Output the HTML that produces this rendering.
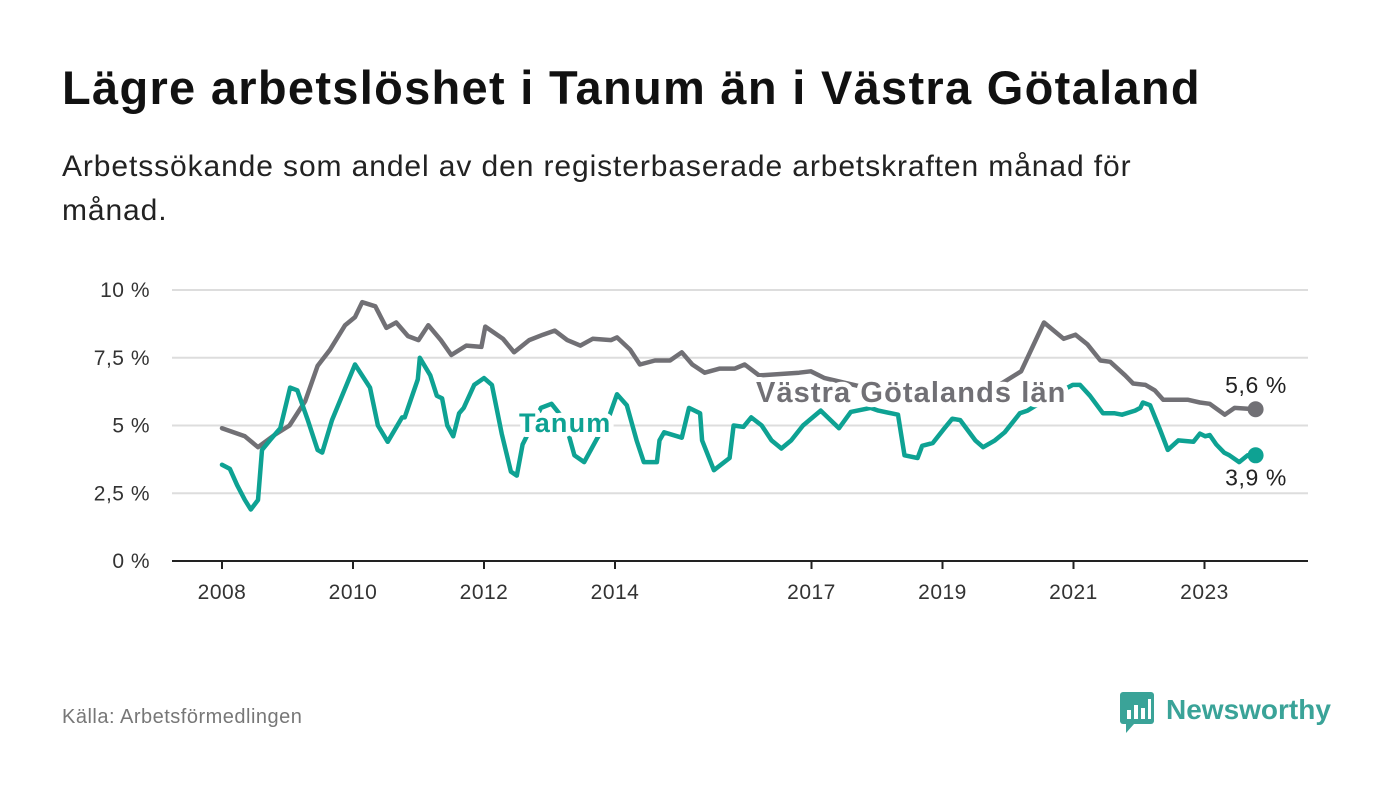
<!DOCTYPE html>
<html><head><meta charset="utf-8">
<style>
body{margin:0;width:1400px;height:794px;background:#fff;font-family:"Liberation Sans",sans-serif;overflow:hidden;position:relative}
h1{position:absolute;left:62px;top:60px;margin:0;font-size:47px;letter-spacing:1.3px;font-weight:bold;color:#111}
.sub{position:absolute;left:62px;top:145px;width:1140px;font-size:30px;letter-spacing:0.9px;line-height:44px;color:#222}
.src{position:absolute;left:62px;top:706px;font-size:20px;letter-spacing:0.5px;color:#777}
</style></head><body>
<h1>Lägre arbetslöshet i Tanum än i Västra Götaland</h1>
<div class="sub">Arbetssökande som andel av den registerbaserade arbetskraften månad för månad.</div>
<div class="src">Källa: Arbetsförmedlingen</div>
<svg style="position:absolute;left:1118px;top:690px" width="230" height="46">
<rect x="2" y="2" width="34" height="32" rx="3" fill="#3aa398"/><path d="M8 34 L8 43 L16 34Z" fill="#3aa398"/>
<rect x="9" y="20" width="4" height="9" fill="#fff"/><rect x="16" y="15" width="4" height="14" fill="#fff"/><rect x="23" y="18" width="4" height="11" fill="#fff"/><rect x="30" y="9" width="3" height="20" fill="#fff"/>
<text x="48" y="29" font-size="28" font-weight="bold" fill="#3aa398" font-family="Liberation Sans, sans-serif">Newsworthy</text>
</svg>
<svg id="chart" width="1400" height="794" style="position:absolute;left:0;top:0"></svg>
<script>
const yTicks=[0,2.5,5,7.5,10];
const yTickLabels=["0 %","2,5 %","5 %","7,5 %","10 %"];
const xTicks=[2008,2010,2012,2014,2017,2019,2021,2023];
const vgDates=[2008,2008.35,2008.55,2008.8,2009.03,2009.27,2009.46,2009.65,2009.88,2010.03,2010.14,2010.34,2010.51,2010.66,2010.84,2011,2011.15,2011.34,2011.5,2011.73,2011.96,2012.02,2012.29,2012.46,2012.69,2012.9,2013.08,2013.27,2013.47,2013.66,2013.94,2014.03,2014.23,2014.38,2014.61,2014.84,2015.02,2015.18,2015.37,2015.6,2015.83,2015.98,2016.2,2016.81,2016.99,2017.2,2018,2019,2019.8,2020.2,2020.55,2020.85,2021.03,2021.21,2021.41,2021.56,2021.79,2021.91,2022.1,2022.24,2022.37,2022.75,2022.93,2023.08,2023.31,2023.46,2023.78];
const vgValues=[4.9,4.6,4.2,4.65,5.0,5.9,7.2,7.8,8.7,9.0,9.55,9.4,8.6,8.8,8.3,8.15,8.7,8.15,7.6,7.95,7.9,8.65,8.2,7.7,8.15,8.35,8.5,8.15,7.95,8.2,8.15,8.25,7.8,7.25,7.4,7.4,7.7,7.25,6.95,7.1,7.1,7.25,6.85,6.95,7.0,6.75,6.3,6.0,6.4,7.0,8.8,8.2,8.35,8.0,7.4,7.35,6.85,6.55,6.5,6.3,5.95,5.95,5.85,5.8,5.4,5.65,5.6];
const tnDates=[2008,2008.12,2008.23,2008.35,2008.44,2008.55,2008.61,2008.73,2008.89,2009.04,2009.15,2009.31,2009.46,2009.53,2009.68,2010.03,2010.26,2010.38,2010.53,2010.75,2010.79,2010.99,2011.02,2011.18,2011.28,2011.36,2011.44,2011.53,2011.62,2011.69,2011.85,2012,2012.12,2012.27,2012.41,2012.5,2012.59,2012.87,2013.03,2013.23,2013.38,2013.53,2013.71,2013.89,2014.03,2014.18,2014.33,2014.44,2014.64,2014.68,2014.75,2015.02,2015.13,2015.3,2015.33,2015.51,2015.75,2015.81,2015.96,2016.08,2016.24,2016.39,2016.54,2016.69,2016.87,2017.14,2017.42,2017.6,2017.9,2018.02,2018.32,2018.42,2018.62,2018.69,2018.85,2019.03,2019.15,2019.27,2019.5,2019.62,2019.8,2019.95,2020.18,2020.3,2020.6,2020.99,2021.1,2021.25,2021.45,2021.63,2021.74,2021.94,2022.02,2022.06,2022.17,2022.32,2022.44,2022.6,2022.83,2022.93,2023.01,2023.08,2023.18,2023.3,2023.38,2023.53,2023.66,2023.78];
const tnValues=[3.55,3.4,2.8,2.25,1.9,2.25,4.1,4.45,4.9,6.4,6.3,5.2,4.1,4.0,5.2,7.25,6.4,5.0,4.4,5.3,5.3,6.7,7.5,6.85,6.1,6.0,5.0,4.6,5.45,5.65,6.5,6.75,6.5,4.7,3.3,3.15,4.3,5.65,5.8,5.2,3.9,3.65,4.45,5.2,6.15,5.75,4.45,3.65,3.65,4.45,4.75,4.55,5.65,5.45,4.45,3.35,3.8,5.0,4.95,5.3,5.0,4.45,4.15,4.45,5.0,5.55,4.9,5.5,5.65,5.55,5.4,3.9,3.8,4.25,4.35,4.9,5.25,5.2,4.45,4.2,4.45,4.75,5.45,5.55,6.0,6.5,6.5,6.1,5.45,5.45,5.4,5.55,5.65,5.85,5.75,4.85,4.1,4.45,4.4,4.7,4.6,4.65,4.3,4.0,3.9,3.65,3.9,3.9];
const NS='http://www.w3.org/2000/svg';
const svg=document.getElementById('chart');
const X=y=>222+(y-2008)*65.5;
const Y=v=>561-v*27.1;
function mk(t,a){const e=document.createElementNS(NS,t);for(const k in a)e.setAttribute(k,a[k]);svg.appendChild(e);return e;}
yTicks.forEach((v,i)=>{
  const l=mk('line',{x1:172,x2:1308,y1:Y(v),y2:Y(v),stroke:v===0?'#222':'#ddd','stroke-width':2});
  
  
  const t=mk('text',{x:150,y:Y(v)+7,'text-anchor':'end','font-size':21,'letter-spacing':0.5,fill:'#333'});
  t.textContent=yTickLabels[i];
  
  
});
xTicks.forEach(y=>{
  const l=mk('line',{x1:X(y),x2:X(y),y1:561,y2:569,stroke:'#222','stroke-width':2});
  
  
  const t=mk('text',{x:X(y),y:599,'text-anchor':'middle','font-size':21,'letter-spacing':0.5,fill:'#333'});
  t.textContent=y;
  
  
});
function line(d,v,c,name){
  const p=mk('path',{d:d.map((x,i)=>(i?'L':'M')+X(x).toFixed(1)+' '+Y(v[i]).toFixed(1)).join(''),fill:'none',stroke:c,'stroke-width':4.5,'stroke-linejoin':'round','stroke-linecap':'round'});
  
  
  const n=d.length-1;
  const c2=mk('circle',{cx:X(d[n]),cy:Y(v[n]),r:8,fill:c});
  
  
}
line(vgDates,vgValues,'#717075','vastra-gotaland-line');
line(tnDates,tnValues,'#0ea293','tanum-line');
function lab(x,y,txt,c,size,bold,name,anchor,ls){
  const t=mk('text',{x:x,y:y,'font-size':size,'letter-spacing':ls||0,'font-weight':bold?'bold':'normal',fill:c,stroke:'#fff','stroke-width':bold?10:5,'paint-order':'stroke','stroke-linejoin':'round','text-anchor':anchor||'start'});
  t.textContent=txt;
  
  
}
lab(519,432,'Tanum','#0ea293',27,true,'tanum-label','start',1.2);
lab(756,402,'Västra Götalands län','#717075',29,true,'vastra-gotaland-label','start',1.1);
const n1=vgValues.length-1,n2=tnValues.length-1;
lab(1256,Y(vgValues[n1])-16,String(vgValues[n1]).replace('.',',')+' %','#222',23,false,'vastra-gotaland-end-value','middle',0.6);
lab(1256,Y(tnValues[n2])+30,String(tnValues[n2]).replace('.',',')+' %','#222',23,false,'tanum-end-value','middle',0.6);
</script>
</body></html>
